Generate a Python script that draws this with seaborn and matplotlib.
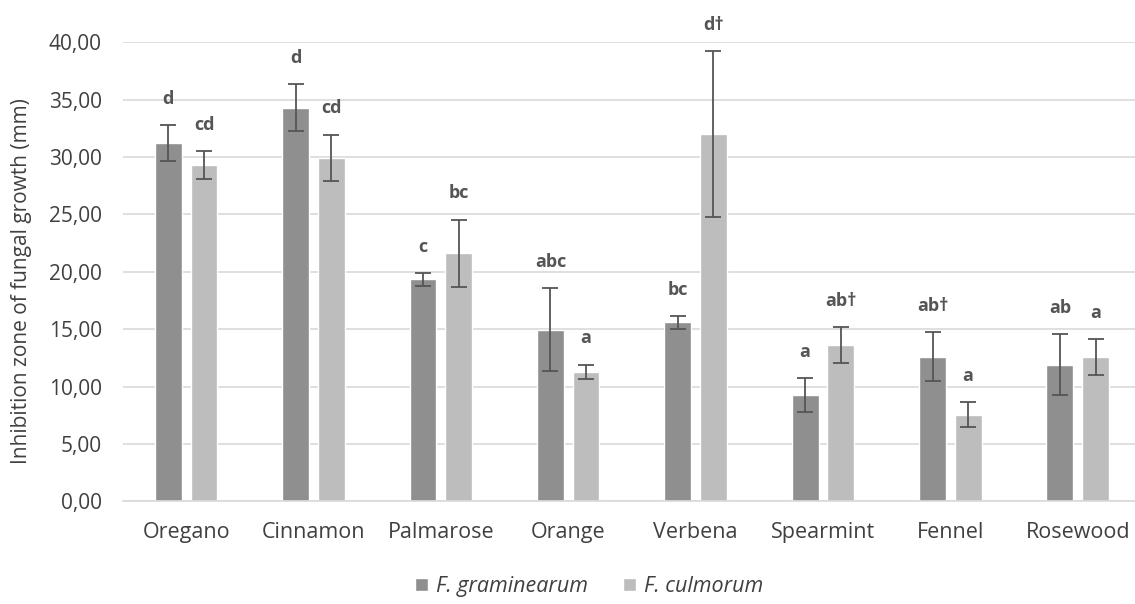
import numpy as np
import pandas as pd
import seaborn as sns
import matplotlib.pyplot as plt
from matplotlib.ticker import FuncFormatter

oils = ['Oregano', 'Cinnamon', 'Palmarose', 'Orange', 'Verbena', 'Spearmint', 'Fennel', 'Rosewood']
species = ['F. graminearum', 'F. culmorum']

gram_mean = [31.2, 34.3, 19.35, 14.95, 15.6, 9.25, 12.6, 11.9]
gram_err = [1.55, 2.05, 0.55, 3.6, 0.55, 1.5, 2.15, 2.65]
gram_lbl = ['d', 'd', 'c', 'abc', 'bc', 'a', 'ab\u2020', 'ab']

culm_mean = [29.3, 29.95, 21.6, 11.3, 32.0, 13.6, 7.55, 12.6]
culm_err = [1.2, 2.0, 2.95, 0.6, 7.2, 1.55, 1.1, 1.55]
culm_lbl = ['cd', 'cd', 'bc', 'a', 'd\u2020', 'ab\u2020', 'a', 'a']

df = pd.DataFrame({
    'Oil': oils * 2,
    'Species': [species[0]] * len(oils) + [species[1]] * len(oils),
    'Zone': gram_mean + culm_mean,
})
errs = gram_err + culm_err
lbls = gram_lbl + culm_lbl

sns.set_style('white')
plt.rcParams['font.family'] = ['Open Sans', 'DejaVu Sans']

fig = plt.figure(figsize=(11.35, 6.04), dpi=100)
ax = fig.add_axes([0.108, 0.170, 0.892, 0.760])

sns.barplot(data=df, x='Oil', y='Zone', hue='Species', order=oils, hue_order=species,
            palette=['#8f8f8f', '#bdbdbd'], width=0.56, gap=0.25, errorbar=None,
            saturation=1, ax=ax, zorder=2)

# error bars + letters on top of each bar
bars = [p for p in ax.patches if p.get_height() > 0][:len(df)]
for p, e, t in zip(bars, errs, lbls):
    xc = p.get_x() + p.get_width() / 2
    h = p.get_height()
    ax.errorbar(xc, h, yerr=e, color='#555555', capsize=6, elinewidth=1.3,
                capthick=1.3, zorder=3)
    ax.text(xc, h + e + 2.3, t, ha='center', va='center', fontsize=13,
            fontweight='bold', color='#555555', clip_on=False)

ax.set_ylim(0, 40)
ax.set_xlim(-0.5, 7.45)
ax.set_yticks(np.arange(0, 41, 5))
ax.yaxis.set_major_formatter(FuncFormatter(lambda v, _: f'{v:.2f}'.replace('.', ',')))
ax.grid(axis='y', color='#d9d9d9', linewidth=1.2, zorder=0)
ax.set_axisbelow(True)
sns.despine(ax=ax, left=True)
ax.spines['bottom'].set_color('#d9d9d9')
ax.spines['bottom'].set_linewidth(1.2)
ax.tick_params(axis='both', length=0, labelsize=15, labelcolor='#404040')
ax.tick_params(axis='x', labelsize=15.5, pad=15)
ax.tick_params(axis='y', pad=15)
ax.set_xlabel('')
ax.set_ylabel('Inhibition zone of fungal growth (mm)', fontsize=15, color='#404040')
ax.yaxis.set_label_coords(-0.089, 0.48)

leg = ax.legend(loc='center', bbox_to_anchor=(0.461, -0.186), ncol=2, frameon=False,
                handlelength=0.6, handleheight=0.6, handletextpad=0.4, columnspacing=1.6,
                prop={'style': 'italic', 'size': 15.5})
for t in leg.get_texts():
    t.set_color('#404040')

fig.savefig('out.png', dpi=100)
